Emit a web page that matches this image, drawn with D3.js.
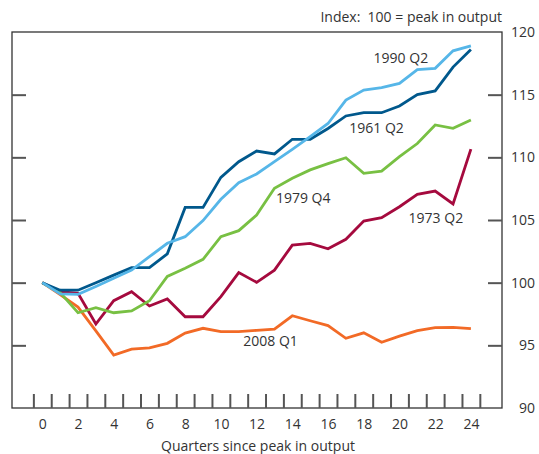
<!DOCTYPE html>
<html>
<head>
<meta charset="utf-8">
<script src="https://cdn.jsdelivr.net/npm/d3@7"></script>
<style>
  html, body { margin: 0; padding: 0; background: #fff; }
  svg { display: block; font-family: "Open Sans", "Noto Sans", sans-serif; }
</style>
</head>
<body>
<svg id="chart" width="539" height="454"></svg>
<script>
// ---- data ----
const quarters = d3.range(0, 25);
const s1961 = [100, 99.4, 99.4, 100.0, 100.6, 101.2, 101.2, 102.3, 106.0, 106.0, 108.4, 109.65, 110.5, 110.27, 111.44, 111.44, 112.3, 113.3, 113.56, 113.56, 114.1, 115.0, 115.3, 117.2, 118.6];
const s1990 = [100, 99.1, 99.07, 99.7, 100.35, 101.0, 102.07, 103.14, 103.67, 104.95, 106.65, 107.98, 108.67, 109.65, 110.64, 111.65, 112.7, 114.57, 115.37, 115.56, 115.9, 117.0, 117.1, 118.5, 118.9];
const s1979 = [100, 99.2, 97.6, 98.0, 97.6, 97.74, 98.56, 100.5, 101.15, 101.86, 103.67, 104.15, 105.4, 107.53, 108.33, 109.0, 109.5, 109.97, 108.72, 108.9, 110.05, 111.1, 112.58, 112.31, 112.98];
const s1973 = [100, 99.28, 99.15, 96.7, 98.56, 99.28, 98.14, 98.7, 97.28, 97.28, 98.88, 100.8, 100.03, 101.0, 103.0, 103.14, 102.7, 103.46, 104.92, 105.18, 106.06, 107.05, 107.31, 106.28, 110.66];
const s2008 = [100, 99.05, 98.05, 96.15, 94.23, 94.7, 94.8, 95.16, 95.98, 96.36, 96.09, 96.09, 96.2, 96.3, 97.36, 96.96, 96.57, 95.56, 96.0, 95.24, 95.74, 96.17, 96.41, 96.44, 96.33];

const seriesNames = ["1961 Q2", "1990 Q2", "1979 Q4", "1973 Q2", "2008 Q1"];
const seriesValues = [s1961, s1990, s1979, s1973, s2008];
const seriesColors = ["#00588c", "#56b6e8", "#78c043", "#a50a3e", "#f26a26"];

const yTicks = [90, 95, 100, 105, 110, 115, 120];
const xLabelTicks = d3.range(0, 25, 2);
const xMinorTicks = d3.range(-0.5, 25, 1);

// label anchor (quarter, value) for series labels
const labelQ = [18.72, 20.08, 14.61, 22.04, 12.78];
const labelV = [112.32, 117.9, 106.73, 105.13, 95.37];

// ---- layout ----
const svg = d3.select("#chart");
const frame = {left: 12, right: 502, top: 32, bottom: 408};
const x = d3.scaleLinear().domain([0, 24]).range([42.3, 470.9]);
const y = d3.scaleLinear().domain([90, 120]).range([frame.bottom, frame.top]);

const textColor = "#333";
const axisColor = "#333";
const tickColor = "#555";

// frame
svg.append("rect")
  .attr("x", frame.left).attr("y", frame.top)
  .attr("width", frame.right - frame.left).attr("height", frame.bottom - frame.top)
  .attr("fill", "none").attr("stroke", axisColor).attr("stroke-width", 1.3);

// inner y ticks left
const gl = svg.append("g").attr("transform", `translate(${frame.left},0)`)
  .call(d3.axisRight(y).tickValues([95,100,105,110,115]).tickSize(14).tickFormat(""));
// inner y ticks right
const gr = svg.append("g").attr("transform", `translate(${frame.right},0)`)
  .call(d3.axisLeft(y).tickValues([95,100,105,110,115]).tickSize(14).tickFormat(""));
// x inner ticks
const gb = svg.append("g").attr("transform", `translate(0,${frame.bottom})`)
  .call(d3.axisTop(x).tickValues(xMinorTicks).tickSize(14).tickFormat(""));
[gl, gr, gb].forEach(g => {
  g.select(".domain").remove();
  g.selectAll(".tick line").attr("stroke", tickColor).attr("stroke-width", 2);
});

// y labels on right
const gyl = svg.append("g").attr("transform", `translate(535,0)`)
  .call(d3.axisLeft(y).tickValues(yTicks).tickSize(0).tickPadding(0));
gyl.select(".domain").remove();
gyl.selectAll("text").attr("font-size", 14).attr("fill", textColor)
  .attr("font-family", "'Open Sans', sans-serif");

// x labels
const gxl = svg.append("g").attr("transform", `translate(0,${frame.bottom})`)
  .call(d3.axisBottom(x).tickValues(xLabelTicks).tickSize(0).tickPadding(11));
gxl.select(".domain").remove();
gxl.selectAll("text").attr("font-size", 14).attr("fill", textColor)
  .attr("font-family", "'Open Sans', sans-serif");

// axis titles
svg.append("text").attr("x", 502).attr("y", 22).attr("text-anchor", "end")
  .attr("font-size", 14).attr("fill", textColor).style("white-space", "pre")
  .text("Index:  100 = peak in output");
svg.append("text").attr("x", 258).attr("y", 451).attr("text-anchor", "middle")
  .attr("font-size", 14).attr("fill", textColor)
  .text("Quarters since peak in output");

// lines
const line = d3.line().x((d, i) => x(quarters[i])).y(d => y(d));
const order = [4, 3, 2, 0, 1];
order.forEach(k => {
  svg.append("path").datum(seriesValues[k])
    .attr("d", line).attr("fill", "none")
    .attr("stroke", seriesColors[k]).attr("stroke-width", 2.8)
    .attr("stroke-linejoin", "miter").attr("stroke-linecap", "butt");
});

// series labels
seriesNames.forEach((name, i) => {
  svg.append("text").attr("x", x(labelQ[i])).attr("y", y(labelV[i]) + 5)
    .attr("text-anchor", "middle").attr("font-size", 14).attr("fill", textColor)
    .text(name);
});
</script>
</body>
</html>
